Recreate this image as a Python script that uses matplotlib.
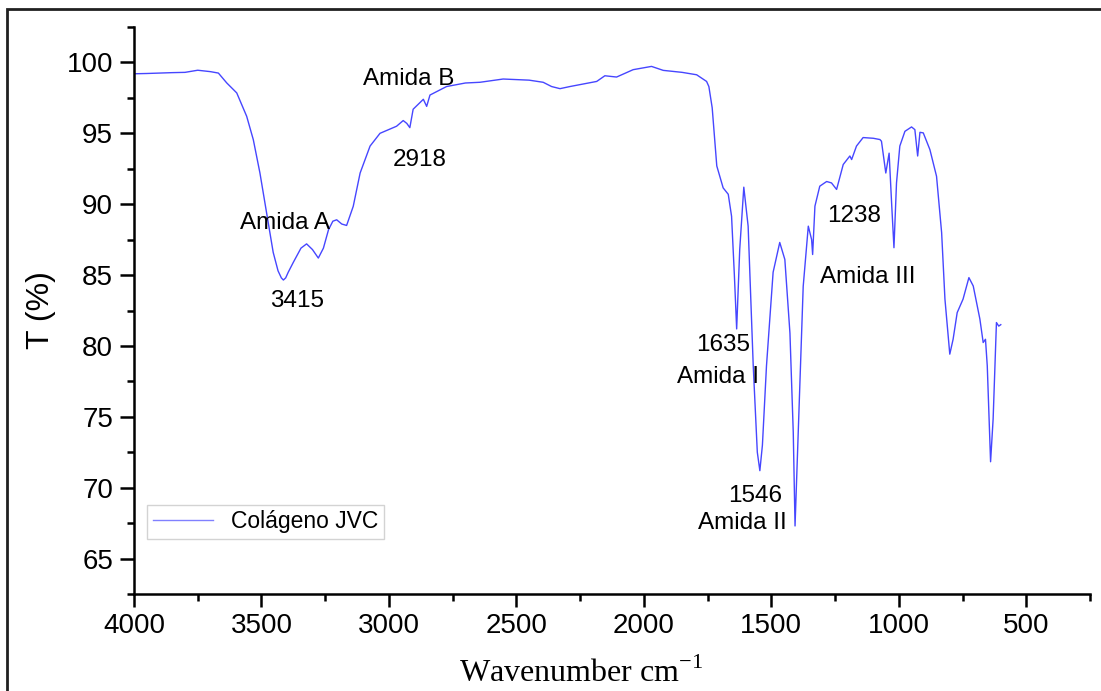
import numpy as np
import matplotlib.pyplot as plt
import matplotlib.patches as patches
from matplotlib.ticker import MultipleLocator

# -------------------------------------------------------------------------------------------------------------------- #
# DATA

wavenumber = [4000, 3950, 3900, 3850, 3800, 3750, 3700, 3669, 3636, 3597, 3558, 3532, 3506, 3480, 3454, 3435,
              3422, 3414, 3405, 3395, 3375, 3345, 3323, 3300, 3277, 3257, 3237, 3220, 3205, 3185, 3166, 3140,
              3113, 3074, 3035, 2970, 2944, 2930, 2918, 2905, 2865, 2852, 2839, 2774, 2700, 2643, 2552, 2450,
              2395, 2362, 2329, 2290, 2185, 2153, 2107, 2042, 1970, 1924, 1850, 1793, 1754, 1745, 1732, 1714,
              1689, 1669, 1656, 1645, 1636, 1624, 1608, 1591, 1571, 1555, 1545, 1535, 1519, 1493, 1467, 1447,
              1427, 1414, 1407, 1398, 1388, 1375, 1355, 1342, 1338, 1329, 1310, 1283, 1264, 1244, 1218, 1192,
              1185, 1166, 1140, 1100, 1074, 1068, 1051, 1038, 1028, 1019, 1009, 996, 976, 950, 937, 926,
              917, 904, 878, 852, 832, 819, 800, 787, 771, 748, 725, 708, 682, 669, 660, 653,
              640, 630, 617, 608, 600]
transmittance = [99.2, 99.22, 99.25, 99.28, 99.3, 99.45, 99.35, 99.25, 98.55, 97.85, 96.2, 94.55, 92.2, 89.4, 86.6, 85.3,
                 84.8, 84.65, 84.8, 85.2, 85.9, 86.9, 87.2, 86.8, 86.2, 86.9, 88.2, 88.8, 88.9, 88.6, 88.5, 89.85,
                 92.2, 94.1, 95.0, 95.5, 95.9, 95.7, 95.4, 96.7, 97.4, 96.9, 97.7, 98.3, 98.55, 98.6, 98.83, 98.75,
                 98.6, 98.3, 98.15, 98.3, 98.66, 99.06, 98.97, 99.49, 99.72, 99.44, 99.3, 99.13, 98.66, 98.3, 96.8, 92.7,
                 91.15, 90.7, 89.15, 85.0, 81.2, 86.8, 91.2, 88.45, 78.6, 72.5, 71.2, 73.0, 78.6, 85.2, 87.3, 86.1,
                 80.9, 73.9, 67.3, 72.0, 77.4, 84.2, 88.45, 87.5, 86.45, 89.86, 91.27, 91.6, 91.5, 91.04, 92.8, 93.4,
                 93.15, 94.1, 94.7, 94.65, 94.56, 94.44, 92.2, 93.6, 90.0, 86.93, 91.5, 94.1, 95.14, 95.45, 95.26, 93.4,
                 95.07, 95.03, 93.85, 91.97, 87.99, 83.3, 79.42, 80.47, 82.35, 83.3, 84.82, 84.23, 81.9, 80.24, 80.47, 78.6,
                 71.83, 74.84, 81.65, 81.4, 81.5]

labels = ['Amida B', '2918', 'Amida A', '3415', '1635', 'Amida I', '1546', 'Amida II', '1238', 'Amida III']
label_x = [2921, 2878, 3409, 3362, 1690, 1708, 1563, 1612, 1174, 1122]
label_y = [98.85, 93.1, 88.64, 83.17, 80.05, 77.82, 69.44, 67.5, 89.16, 84.86]

# -------------------------------------------------------------------------------------------------------------------- #
# PLOT

plt.rcParams['font.family'] = ['Liberation Sans', 'DejaVu Sans']

fig = plt.figure(figsize=(11.01, 6.91), dpi=100)
ax = fig.add_axes([134 / 1101, 1 - 594 / 691, 956 / 1101, 567 / 691])

ax.plot(wavenumber, transmittance, color='#4646ff', linewidth=1.0, label='Colágeno JVC')

for text, x, y in zip(labels, label_x, label_y):
    ax.text(x, y, text, fontsize=17.5, ha='center', va='center')

ax.set_xlim(4000, 250)
ax.set_ylim(62.5, 102.5)
ax.xaxis.set_major_locator(MultipleLocator(500))
ax.xaxis.set_minor_locator(MultipleLocator(250))
ax.yaxis.set_major_locator(MultipleLocator(5))
ax.yaxis.set_minor_locator(MultipleLocator(2.5))

ax.spines['top'].set_visible(False)
ax.spines['right'].set_visible(False)
ax.spines['left'].set_linewidth(1.8)
ax.spines['bottom'].set_linewidth(1.8)
ax.tick_params(which='major', direction='out', length=9, width=1.8, labelsize=20, pad=5)
ax.tick_params(which='minor', direction='out', length=5, width=1.8)
ax.tick_params(axis='y', which='major', length=10)

ax.set_xlabel('Wavenumber cm$^{\\mathregular{-1}}$', family='Liberation Serif', fontsize=23)
ax.xaxis.set_label_coords((581 - 134) / 956, -0.113)
ax.set_ylabel('T (%)', fontsize=23, labelpad=8)

leg = ax.legend(loc='lower left', bbox_to_anchor=(0.014, 0.097), fontsize=16.5, frameon=True, fancybox=False,
                handlelength=2.6, borderpad=0.25, borderaxespad=0)
leg.get_frame().set_edgecolor('#c8c8c8')
leg.get_frame().set_linewidth(1.0)
leg.get_lines()[0].set_color('#8080ff')

# frame around the whole picture (cut off at right and bottom)
frame = patches.Rectangle((7 / 1101, -0.1), 1.2, 1.1 - 9 / 691, transform=fig.transFigure,
                          fill=False, edgecolor='#202020', linewidth=2.0)
fig.patches.append(frame)

plt.savefig('out.png', dpi=100)
